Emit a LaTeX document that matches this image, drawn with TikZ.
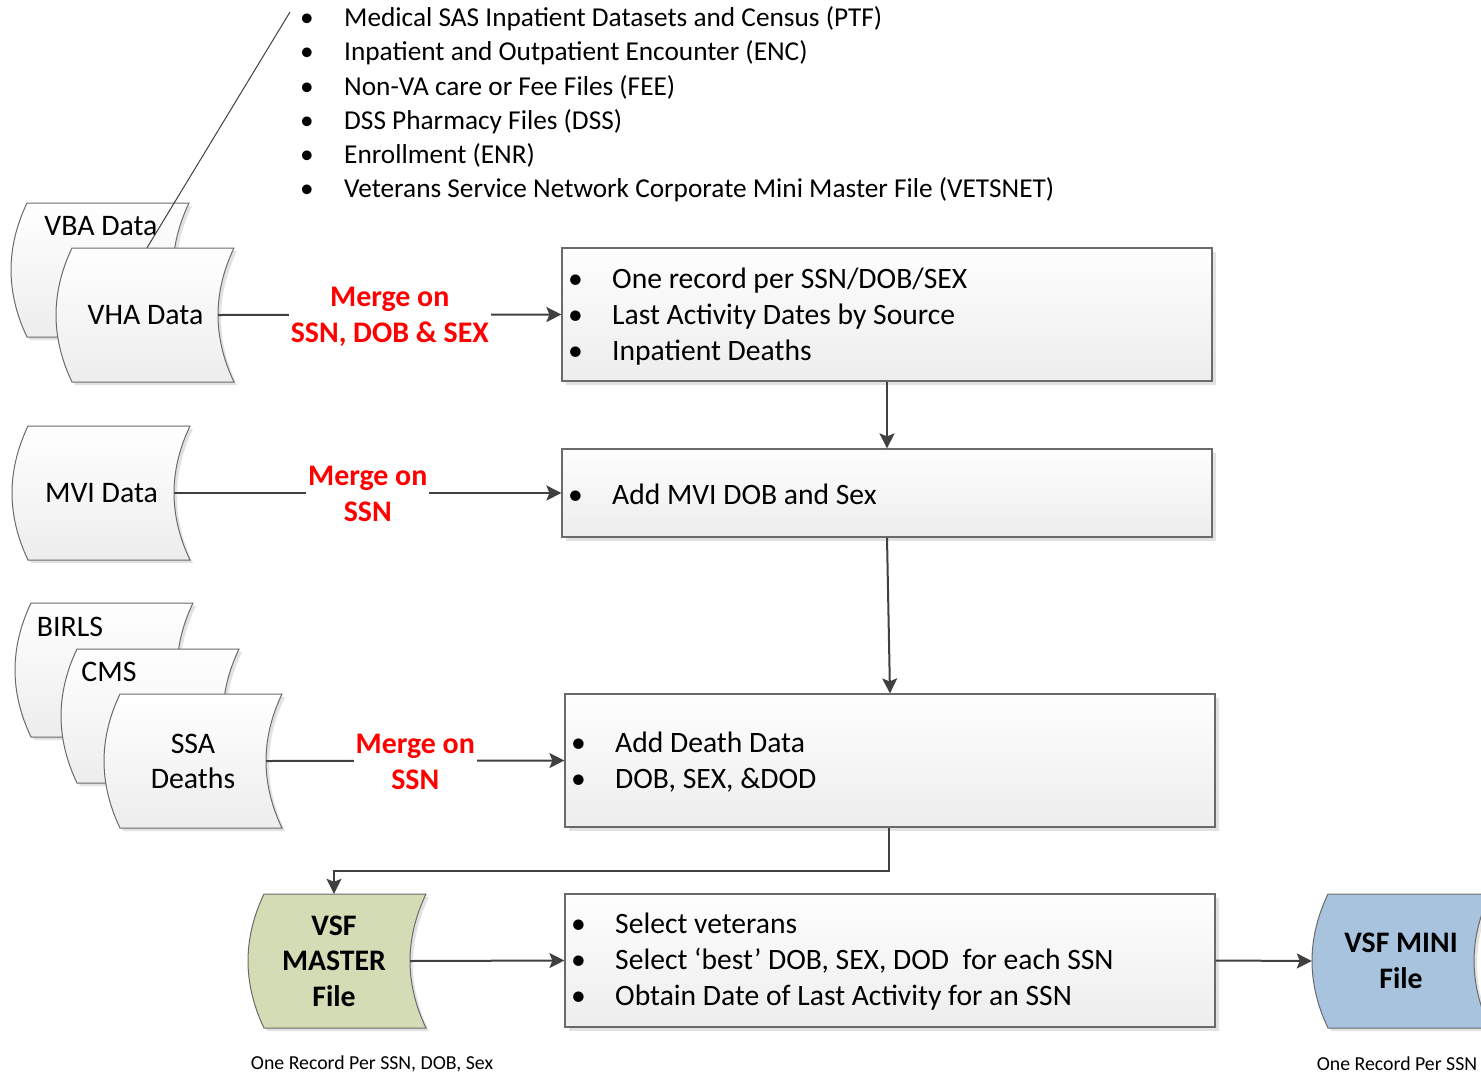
\documentclass[tikz,border=0pt]{standalone}
\usepackage{fontspec}
\setmainfont{Carlito}
\usetikzlibrary{arrows.meta,shadows}
\definecolor{linegray}{HTML}{404040}
\definecolor{edgegray}{HTML}{6A6A6A}
\definecolor{boxtop}{HTML}{FEFEFE}
\definecolor{boxbot}{HTML}{EDEDED}
\definecolor{shadowgray}{HTML}{E2E2E2}
\definecolor{masterfill}{HTML}{D3DCB5}
\definecolor{minifill}{HTML}{A7C3DD}
\definecolor{mergered}{HTML}{FF0000}
\tikzset{
  procbox/.style={draw=edgegray, line width=1.2pt, top color=boxtop, bottom color=boxbot,
    drop shadow={shadow xshift=4pt, shadow yshift=-4pt, fill=shadowgray, opacity=1}},
  storebody/.style={draw=edgegray, line width=1pt,
    drop shadow={shadow xshift=3pt, shadow yshift=-3pt, fill=shadowgray, opacity=1}},
  storegrad/.style={storebody, top color=white, bottom color=boxbot},
  storeanchor/.style={inner sep=0pt, minimum width=162pt, minimum height=134pt},
  conn/.style={draw=linegray, line width=2pt, -{Stealth[length=15pt,width=15pt,inset=3pt]}},
  mergelabel/.style={fill=white, text=mergered, font=\fontsize{29.9}{36}\selectfont\bfseries,
    align=center, inner xsep=2pt, inner ysep=0pt},
  maintext/.style={font=\fontsize{29.8}{36}\selectfont, inner sep=0pt},
  bulltext/.style={font=\fontsize{29.6}{36}\selectfont, align=left, anchor=west, inner sep=0pt},
  captiontext/.style={font=\fontsize{19.8}{23}\selectfont, inner sep=0pt}
}
\newcommand{\bul}{\makebox[44pt][l]{\textbullet}}
\newcommand{\topbul}{\makebox[44pt][l]{\textbullet}}
% stored-data shape: #1 centre x, #2 centre y, #3 style
\newcommand{\storeshape}[3]{%
  \path[#3] ({#1-65},{#2-67}) -- ({#1+97},{#2-67})
    .. controls ({#1+75.7},{#2-22.3}) and ({#1+75.7},{#2+22.3}) .. ({#1+97},{#2+67})
    -- ({#1-65},{#2+67})
    .. controls ({#1-86.3},{#2+22.3}) and ({#1-86.3},{#2-22.3}) .. cycle;}
\begin{document}
\begin{tikzpicture}[x=1pt, y=-1pt]
\useasboundingbox (0,0) rectangle (1481,1074);
\clip (0,0) rectangle (1481,1074);

% ---- top bullet list
\node[font=\fontsize{27.3}{34.2}\selectfont, align=left, anchor=west, inner sep=0pt] (srclist) at (300,104.5)
  {\topbul Medical SAS Inpatient Datasets and Census (PTF)\\
   \topbul Inpatient and Outpatient Encounter (ENC)\\
   \topbul Non-VA care or Fee Files (FEE)\\
   \topbul DSS Pharmacy Files (DSS)\\
   \topbul Enrollment (ENR)\\
   \topbul Veterans Service Network Corporate Mini Master File (VETSNET)};
\coordinate (callout) at (290,12);

% ---- stored data shapes
\storeshape{92}{270}{storegrad}
\node[storeanchor] (vba) at (92,270) {};
\node[maintext] (vbatext) at (101,226) {VBA Data};

\storeshape{137}{315}{storegrad}
\node[storeanchor] (vha) at (137,315) {};
\node[maintext] (vhatext) at (145.5,315) {VHA Data};

\draw[line width=1pt, draw=linegray] (callout) -- ([xshift=10pt]vha.north);

\storeshape{93}{493}{storegrad}
\node[storeanchor] (mvi) at (93,493) {};
\node[maintext] (mvitext) at (101.5,493) {MVI Data};

\storeshape{96}{670}{storegrad}
\node[storeanchor] (birls) at (96,670) {};
\node[maintext] (birlstext) at (70,627) {BIRLS};

\storeshape{142}{716}{storegrad}
\node[storeanchor] (cms) at (142,716) {};
\node[maintext] (cmstext) at (109,672) {CMS};

\storeshape{185}{761}{storegrad}
\node[storeanchor] (ssa) at (185,761) {};
\node[maintext, align=center, font=\fontsize{29.8}{35}\selectfont] (ssatext) at (193,761) {SSA\\Deaths};

\storeshape{329}{961}{storebody, fill=masterfill}
\node[storeanchor] (master) at (329,961) {};
\node[maintext, align=center, font=\fontsize{29.8}{35.5}\selectfont\bfseries] (mastertext) at (334,961) {VSF\\MASTER\\File};

\storeshape{1393}{961}{storebody, fill=minifill}
\node[storeanchor] (mini) at (1393,961) {};
\node[maintext, align=center, font=\fontsize{29.8}{36}\selectfont\bfseries] (minitext) at (1401,961) {VSF MINI\\File};

% ---- process boxes
\node[procbox, minimum width=650pt, minimum height=133pt, inner sep=0pt] (box1) at (887,314.5) {};
\node[bulltext] (box1text) at (568,317)
  {\bul One record per SSN/DOB/SEX\\ \bul Last Activity Dates by Source\\ \bul Inpatient Deaths};

\node[procbox, minimum width=650pt, minimum height=88pt, inner sep=0pt] (box2) at (887,493) {};
\node[bulltext] (box2text) at (568,494) {\bul Add MVI DOB and Sex};

\node[procbox, minimum width=650pt, minimum height=133pt, inner sep=0pt] (box3) at (890,760.5) {};
\node[bulltext] (box3text) at (571,762) {\bul Add Death Data\\ \bul DOB, SEX, \&DOD};

\node[procbox, minimum width=650pt, minimum height=133pt, inner sep=0pt] (box4) at (890,960.5) {};
\node[bulltext] (box4text) at (571,962)
  {\bul Select veterans\\ \bul Select `best' DOB, SEX, DOD\ \ for each SSN\\ \bul Obtain Date of Last Activity for an SSN};

% ---- connectors
\draw[conn] (vha.east) -- node[mergelabel, yshift=-2pt] (lab1) {Merge on\\SSN, DOB \& SEX} (box1.west);
\draw[conn] (mvi.east) -- node[mergelabel, yshift=-1pt] (lab2) {Merge on\\SSN} (box2.west);
\draw[conn] (ssa.east) -- node[mergelabel, yshift=-1pt] (lab3) {Merge on\\SSN} (box3.west);
\draw[conn] (box1.south) -- (box2.north);
\draw[conn] (box2.south) -- (box3.north);
\coordinate (bend) at (889,871);
\draw[conn] (box3.south -| bend) -- (bend) -| ([xshift=5pt]master.north);
\draw[conn] (master.east) -- (box4.west);
\draw[conn] (box4.east) -- (mini.west);

% ---- captions
\node[captiontext] (cap1) at (372,1064) {One Record Per SSN, DOB, Sex};
\node[captiontext] (cap2) at (1397,1064) {One Record Per SSN};
\end{tikzpicture}
\end{document}
